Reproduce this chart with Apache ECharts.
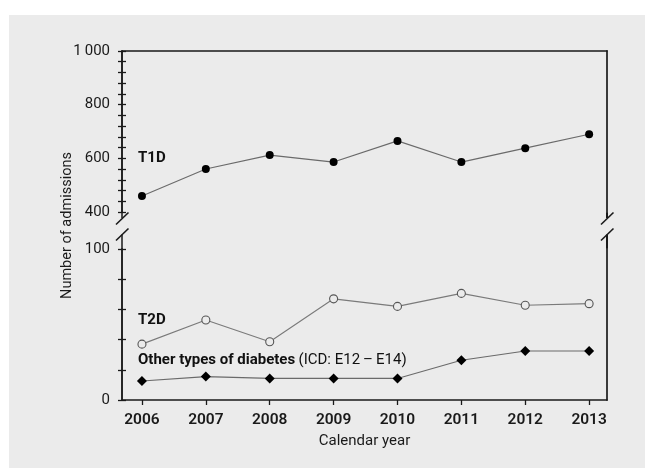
<!DOCTYPE html>
<html>
<head>
<meta charset="utf-8">
<script src="https://cdn.jsdelivr.net/npm/echarts@6/dist/echarts.min.js"></script>
<style>
html,body{margin:0;padding:0;background:#ffffff;}
#wrap{position:relative;width:645px;height:476px;overflow:hidden;}
#bg{position:absolute;left:9px;top:15px;width:636px;height:453px;background:#ebebeb;}
#chart{position:absolute;left:0;top:0;width:645px;height:476px;}
</style>
</head>
<body>
<div id="wrap"><div id="bg"></div><div id="chart"></div></div>
<script>
// ---- data ----
const years = [2006, 2007, 2008, 2009, 2010, 2011, 2012, 2013];
const t1d = [460, 560, 612, 586, 665, 586, 638, 690];
const t2d = [37, 53, 38.6, 67, 62, 70.6, 62.7, 63.8];
const otherTypes = [12.6, 15.5, 14.3, 14.3, 14.3, 26.3, 32.5, 32.5];
const topTicks = [400, 600, 800, 1000];
const bottomTickLabels = [0, 100];

const FONT = 'Roboto, "Noto Sans", sans-serif';
const pairs = arr => years.map((y, i) => [y, arr[i]]);

const xMin = 2005.6875, xMax = 2013.28;
const axisColor = '#1a1a1a';

function yAx(gridIndex, min, max, interval, inside, showLabels, formatter, minor) {
  return {
    type: 'value', gridIndex, min, max, interval, position: 'left',
    axisLine: {show: true, lineStyle: {color: axisColor, width: 1.5}},
    axisTick: {show: true, inside, length: 4, lineStyle: {color: axisColor, width: 1.3}},
    minorTick: {show: minor, splitNumber: 5, length: 4, lineStyle: {color: axisColor, width: 1.3}},
    axisLabel: {show: showLabels, formatter, margin: 12, color: '#1a1a1a', fontSize: 15, fontFamily: FONT},
    splitLine: {show: false}, minorSplitLine: {show: false}
  };
}
function rightAx(gridIndex, min, max) {
  return {
    type: 'value', gridIndex, min, max, position: 'right',
    axisLine: {show: true, lineStyle: {color: '#3a3a3a', width: 2}},
    axisTick: {show: false}, axisLabel: {show: false}, splitLine: {show: false}
  };
}

const topFmt = v => (topTicks.indexOf(v) >= 0 ? (v === 1000 ? '1\u2009000' : String(v)) : '');
const botFmt = v => (bottomTickLabels.indexOf(v) >= 0 ? String(v) : '');

const chart = echarts.init(document.getElementById('chart'), null, {renderer: 'canvas'});

function brk(x) {
  return [
    {type: 'line', shape: {x1: x, y1: 212, x2: x, y2: 218}, style: {stroke: axisColor, lineWidth: x > 300 ? 2 : 1.5}},
    {type: 'line', shape: {x1: x - 6, y1: 224.5, x2: x + 6.5, y2: 212.5}, style: {stroke: axisColor, lineWidth: 1.6}},
    {type: 'line', shape: {x1: x, y1: 234.5, x2: x, y2: 249}, style: {stroke: axisColor, lineWidth: x > 300 ? 2 : 1.5}},
    {type: 'line', shape: {x1: x - 6, y1: 240.5, x2: x + 6.5, y2: 228.5}, style: {stroke: axisColor, lineWidth: 1.6}}
  ];
}

chart.setOption({
  backgroundColor: 'transparent',
  animation: false,
  grid: [
    {left: 122, right: 38, top: 51, height: 161},
    {left: 122, right: 38, top: 249, height: 151}
  ],
  xAxis: [
    {type: 'value', gridIndex: 0, min: xMin, max: xMax, position: 'top',
     axisLine: {show: true, onZero: false, lineStyle: {color: axisColor, width: 1.5}},
     axisTick: {show: false}, axisLabel: {show: false}, splitLine: {show: false}},
    {type: 'value', gridIndex: 1, min: xMin, max: xMax, position: 'bottom',
     axisLine: {show: true, onZero: false, lineStyle: {color: axisColor, width: 1.5}},
     axisTick: {show: true, length: 5, customValues: years, lineStyle: {color: axisColor, width: 1.3}},
     axisLabel: {customValues: years, margin: 12, color: '#1a1a1a', fontSize: 15.5, fontWeight: 600, fontFamily: FONT,
                 formatter: v => String(Math.round(v))},
     splitLine: {show: false}}
  ],
  yAxis: [
    yAx(0, 400, 1000, 200, false, true, topFmt, true),
    yAx(0, 400, 1000, 200, true, false, topFmt, true),
    yAx(1, 0, 100, 20, false, true, botFmt, false),
    yAx(1, 0, 100, 20, true, false, botFmt, false),
    rightAx(0, 400, 1000),
    rightAx(1, 0, 100)
  ],
  series: [
    {name: 'T1D', type: 'line', xAxisIndex: 0, yAxisIndex: 0, data: pairs(t1d),
     symbol: 'circle', symbolSize: 8, itemStyle: {color: '#000'},
     lineStyle: {color: '#6a6a6a', width: 1.1}},
    {name: 'T2D', type: 'line', xAxisIndex: 1, yAxisIndex: 2, data: pairs(t2d),
     symbol: 'circle', symbolSize: 8, itemStyle: {color: '#ebebeb', borderColor: '#555', borderWidth: 1.1},
     lineStyle: {color: '#7a7a7a', width: 1.1}},
    {name: 'Other types of diabetes (ICD: E12 – E14)', type: 'line', xAxisIndex: 1, yAxisIndex: 2, data: pairs(otherTypes),
     symbol: 'diamond', symbolSize: 10, itemStyle: {color: '#000'},
     lineStyle: {color: '#6a6a6a', width: 1.1}}
  ],
  graphic: [
    ...brk(122), ...brk(607),
    {type: 'text', left: 138, top: 151, style: {text: 'T1D', font: 'bold 15px ' + FONT, fill: '#111'}},
    {type: 'text', left: 138, top: 313, style: {text: 'T2D', font: 'bold 15px ' + FONT, fill: '#111'}},
    {type: 'text', left: 138, top: 353, style: {
      text: '{b|Other types of diabetes} {n|(ICD: E12\u2009\u2013\u2009E14)}',
      rich: {b: {font: 'bold 15px ' + FONT, fill: '#111'}, n: {font: '15px ' + FONT, fill: '#111'}}}},
    {type: 'text', x: 67, y: 225.5, rotation: Math.PI / 2,
     style: {text: 'Number of admissions', font: '14.5px ' + FONT, fill: '#1a1a1a', align: 'center', verticalAlign: 'middle'}},
    {type: 'text', x: 364.5, y: 441, style: {text: 'Calendar year', font: '15px ' + FONT, fill: '#1a1a1a', align: 'center', verticalAlign: 'middle'}}
  ]
});
</script>
</body>
</html>
